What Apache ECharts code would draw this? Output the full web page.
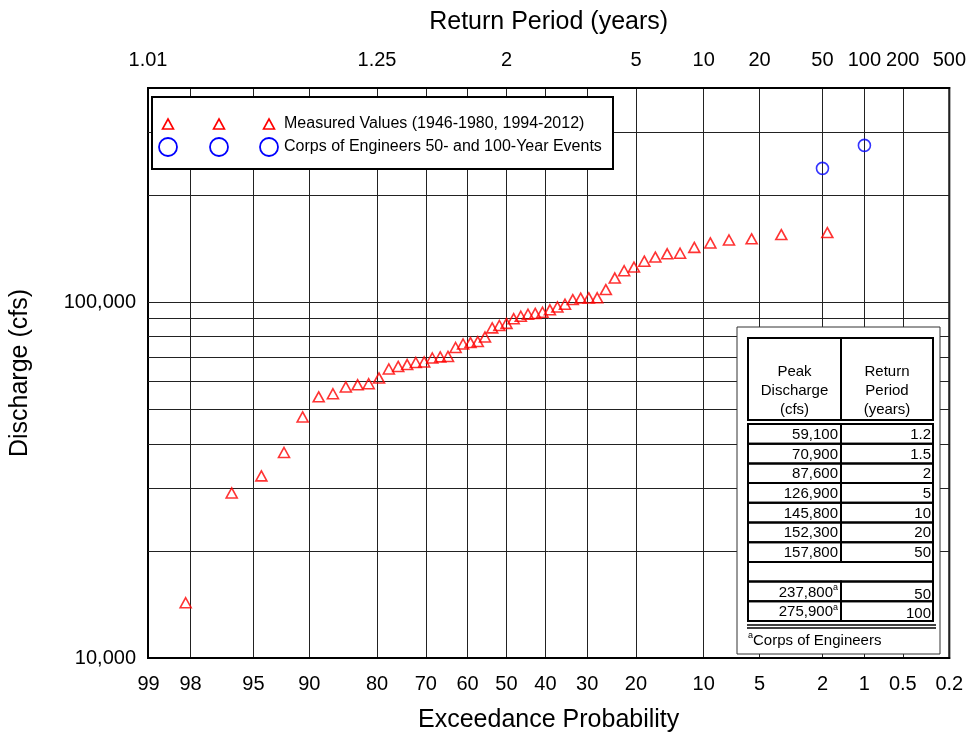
<!DOCTYPE html>
<html>
<head>
<meta charset="utf-8">
<script src="https://cdn.jsdelivr.net/npm/echarts@6/dist/echarts.min.js"></script>
<style>
  html, body { margin: 0; padding: 0; background: #fff; }
  #chart { width: 969px; height: 738px; }
</style>
</head>
<body>
<div id="chart"></div>
<script>
const FONT = '"Liberation Sans", Arial, sans-serif';

// Annual peak discharges (cfs), 1946-1980 and 1994-2012, ranked largest to smallest
const measuredDischarge = [
  156900, 154900, 150700, 149600, 146800, 142600, 137300, 136800, 133900, 130400,
  125500, 122600, 116900, 108500, 102900, 102800, 102700, 101700, 98700, 97000,
  95200, 93700, 93000, 92500, 91300, 89900, 87200, 86000, 84700, 79800,
  77500, 77000, 76300, 74600, 70400, 70200, 69700, 67900, 67700, 66800,
  66000, 64900, 61200, 59000, 58600, 57800, 55300, 54200, 47600, 37800,
  32500, 29100, 14300
];

// Corps of Engineers design events
const corpsReturnPeriod = [50, 100];
const corpsDischarge = [237800, 275900];

// Axis ticks and grid
const probabilityTicks = [99, 98, 95, 90, 80, 70, 60, 50, 40, 30, 20, 10, 5, 2, 1, 0.5, 0.2];
const returnPeriodTicks = [1.01, 1.25, 2, 5, 10, 20, 50, 100, 200, 500];
const dischargeGrid = [20000, 30000, 40000, 50000, 60000, 70000, 80000, 90000, 100000, 200000, 300000];

// Frequency analysis table
const tablePeakDischarge = [59100, 70900, 87600, 126900, 145800, 152300, 157800];
const tableReturnPeriod = [1.2, 1.5, 2, 5, 10, 20, 50];

// Inverse standard normal CDF (Acklam's rational approximation)
function normInv(p) {
  const a = [-3.969683028665376e+01, 2.209460984245205e+02, -2.759285104469687e+02, 1.383577518672690e+02, -3.066479806614716e+01, 2.506628277459239e+00];
  const b = [-5.447609879822406e+01, 1.615858368580409e+02, -1.556989798598866e+02, 6.680131188771972e+01, -1.328068155288572e+01];
  const c = [-7.784894002430293e-03, -3.223964580411365e-01, -2.400758277161838e+00, -2.549732539343734e+00, 4.374664141464968e+00, 2.938163982698783e+00];
  const d = [7.784695709041462e-03, 3.224671290700398e-01, 2.445134137142996e+00, 3.754408661907416e+00];
  const pl = 0.02425, ph = 1 - pl;
  let q, r;
  if (p < pl) {
    q = Math.sqrt(-2 * Math.log(p));
    return (((((c[0]*q+c[1])*q+c[2])*q+c[3])*q+c[4])*q+c[5]) / ((((d[0]*q+d[1])*q+d[2])*q+d[3])*q+1);
  }
  if (p <= ph) {
    q = p - 0.5; r = q * q;
    return (((((a[0]*r+a[1])*r+a[2])*r+a[3])*r+a[4])*r+a[5])*q / (((((b[0]*r+b[1])*r+b[2])*r+b[3])*r+b[4])*r+1);
  }
  q = Math.sqrt(-2 * Math.log(1 - p));
  return -(((((c[0]*q+c[1])*q+c[2])*q+c[3])*q+c[4])*q+c[5]) / ((((d[0]*q+d[1])*q+d[2])*q+d[3])*q+1);
}

// Position on the normal-probability axis for an exceedance probability in percent
const probPos = pct => normInv(1 - pct / 100);

const probTickPos = probabilityTicks.map(probPos);
const returnTickPos = returnPeriodTicks.map(t => probPos(100 / t));
const xMin = Math.min(probTickPos[0], returnTickPos[0]);
const xMax = Math.max(probTickPos[probTickPos.length - 1], returnTickPos[returnTickPos.length - 1]);

function lookup(v, positions, labels) {
  for (let i = 0; i < positions.length; i++) {
    if (Math.abs(positions[i] - v) < 1e-6) return String(labels[i]);
  }
  return '';
}

// Weibull plotting positions: rank / (n + 1)
const n = measuredDischarge.length;
const measuredPoints = measuredDischarge.map((q, i) => [probPos((i + 1) / (n + 1) * 100), q]);
const corpsPoints = corpsDischarge.map((q, i) => [probPos(100 / corpsReturnPeriod[i]), q]);

const fmt = v => v.toLocaleString('en-US');
const TOP = 100;

// ---- Legend box ----
function triangle(cx, cy, w, h) {
  return {
    type: 'polygon', z: TOP + 1,
    shape: { points: [[cx, cy - h / 2], [cx + w / 2, cy + h / 2], [cx - w / 2, cy + h / 2]] },
    style: { fill: 'transparent', stroke: '#ff0000', lineWidth: 1.6 }
  };
}
function ring(cx, cy, r) {
  return {
    type: 'circle', z: TOP + 1,
    shape: { cx: cx, cy: cy, r: r },
    style: { fill: 'transparent', stroke: '#0000ff', lineWidth: 1.8 }
  };
}
const legendRows = [
  { label: 'Measured Values (1946-1980, 1994-2012)', kind: 'tri', y: 124 },
  { label: 'Corps of Engineers 50- and 100-Year Events', kind: 'circ', y: 147 }
];
const legendChildren = [{
  type: 'rect', z: TOP,
  shape: { x: 152, y: 97, width: 461, height: 72 },
  style: { fill: '#fff', stroke: '#000', lineWidth: 2 }
}];
legendRows.forEach(row => {
  [168, 219, 269].forEach(x => {
    legendChildren.push(row.kind === 'tri' ? triangle(x, row.y, 11, 10) : ring(x, row.y, 9));
  });
  legendChildren.push({
    type: 'text', z: TOP + 1,
    style: { x: 284, y: row.y, text: row.label, fill: '#000', font: '16px ' + FONT, verticalAlign: 'middle' }
  });
});

// ---- Frequency table inset ----
const tbl = { x: 748, y: 338, w0: 93, w1: 92, headH: 82, rowY: 424, rowH: 19.7 };
const tableChildren = [{
  type: 'rect', z: TOP,
  shape: { x: 737, y: 327, width: 203, height: 327 },
  style: { fill: '#fff', stroke: '#333', lineWidth: 1 }
}];
function cellRect(x, y, w, h) {
  return { type: 'rect', z: TOP + 1, shape: { x: x, y: y, width: w, height: h }, style: { fill: 'transparent', stroke: '#000', lineWidth: 2 } };
}
function cellText(x, y, text, align, rich) {
  return {
    type: 'text', z: TOP + 2,
    style: {
      x: x, y: y, text: text, fill: '#000', font: '15px ' + FONT,
      align: align, verticalAlign: 'middle', lineHeight: 19, rich: rich
    }
  };
}
const supRich = {
  v: { fontSize: 15, fontFamily: FONT, fill: '#000' },
  s: { fontSize: 9, fontFamily: FONT, fill: '#000', verticalAlign: 'top', padding: [0, 0, 6, 0] }
};
tableChildren.push(cellRect(tbl.x, tbl.y, tbl.w0, tbl.headH));
tableChildren.push(cellRect(tbl.x + tbl.w0, tbl.y, tbl.w1, tbl.headH));
tableChildren.push(cellText(tbl.x + tbl.w0 / 2, tbl.y + 53, 'Peak\nDischarge\n(cfs)', 'center'));
tableChildren.push(cellText(tbl.x + tbl.w0 + tbl.w1 / 2, tbl.y + 53, 'Return\nPeriod\n(years)', 'center'));

const tableRows = tablePeakDischarge.map((q, i) => ({ q: fmt(q), t: String(tableReturnPeriod[i]), note: false }));
tableRows.push(null);
corpsDischarge.forEach((q, i) => tableRows.push({ q: fmt(q), t: String(corpsReturnPeriod[i]), note: true }));

tableRows.forEach((row, i) => {
  const y = tbl.rowY + i * tbl.rowH;
  if (!row) {
    tableChildren.push(cellRect(tbl.x, y, tbl.w0 + tbl.w1, tbl.rowH));
    return;
  }
  tableChildren.push(cellRect(tbl.x, y, tbl.w0, tbl.rowH));
  tableChildren.push(cellRect(tbl.x + tbl.w0, y, tbl.w1, tbl.rowH));
  const cy = y + tbl.rowH / 2 + 1;
  if (row.note) {
    tableChildren.push(cellText(tbl.x + tbl.w0 - 3, cy, '{v|' + row.q + '}{s|a}', 'right', supRich));
  } else {
    tableChildren.push(cellText(tbl.x + tbl.w0 - 3, cy, row.q, 'right'));
  }
  tableChildren.push(cellText(tbl.x + tbl.w0 + tbl.w1 - 2, cy + (row.note ? 2 : 0), row.t, 'right'));
});
const tableBottom = tbl.rowY + tableRows.length * tbl.rowH;
[tableBottom + 4, tableBottom + 7].forEach(y => {
  tableChildren.push({
    type: 'line', z: TOP + 1,
    shape: { x1: tbl.x - 1, y1: y, x2: tbl.x + tbl.w0 + tbl.w1 + 3, y2: y },
    style: { stroke: '#000', lineWidth: 1.5 }
  });
});
tableChildren.push(cellText(tbl.x, tableBottom + 20, '{s|a}{v|Corps of Engineers}', 'left', supRich));

const axisLabelStyle = { color: '#000', fontSize: 20, fontFamily: FONT };
const axisNameStyle = { color: '#000', fontSize: 25, fontFamily: FONT };

const chart = echarts.init(document.getElementById('chart'), null, { renderer: 'canvas' });
chart.setOption({
  animation: false,
  backgroundColor: '#fff',
  grid: {
    left: 148, top: 88, width: 804, height: 572,
    show: true, borderColor: '#000', borderWidth: 2, backgroundColor: 'transparent'
  },
  xAxis: [
    {
      type: 'value', position: 'bottom', min: xMin, max: xMax,
      name: 'Exceedance Probability', nameLocation: 'middle', nameGap: 50, nameTextStyle: axisNameStyle,
      axisLine: { show: true, onZero: false, lineStyle: { color: '#000', width: 2 } },
      axisTick: { show: false, customValues: probTickPos },
      axisLabel: Object.assign({
        customValues: probTickPos, margin: 16,
        formatter: v => lookup(v, probTickPos, probabilityTicks)
      }, axisLabelStyle),
      splitLine: { show: true, lineStyle: { color: '#222', width: 1 } }
    },
    {
      type: 'value', position: 'top', min: xMin, max: xMax,
      name: 'Return Period (years)', nameLocation: 'middle', nameGap: 53, nameTextStyle: axisNameStyle,
      axisLine: { show: true, onZero: false, lineStyle: { color: '#000', width: 2 } },
      axisTick: { show: false, customValues: returnTickPos },
      axisLabel: Object.assign({
        customValues: returnTickPos, margin: 18,
        formatter: v => lookup(v, returnTickPos, returnPeriodTicks)
      }, axisLabelStyle),
      splitLine: { show: false }
    }
  ],
  yAxis: {
    type: 'log', logBase: 10, min: 10000, max: 400000,
    name: 'Discharge (cfs)', nameLocation: 'middle', nameGap: 115, nameTextStyle: axisNameStyle,
    axisLine: { show: true, onZero: false, lineStyle: { color: '#000', width: 2 } },
    axisTick: { show: false },
    axisLabel: Object.assign({
      margin: 12, showMaxLabel: false,
      formatter: v => {
        const e = Math.log10(v);
        return Math.abs(e - Math.round(e)) < 1e-6 ? fmt(Math.round(v)) : '';
      }
    }, axisLabelStyle),
    splitLine: { show: false }
  },
  series: [
    {
      // horizontal grid lines of the log discharge axis
      type: 'line', data: [], silent: true,
      markLine: {
        silent: true, symbol: ['none', 'none'], z: 1, animation: false,
        label: { show: false },
        lineStyle: { color: '#222', width: 1, type: 'solid' },
        emphasis: { disabled: true },
        data: dischargeGrid.map(v => ({ yAxis: v }))
      }
    },
    {
      name: 'Measured Values (1946-1980, 1994-2012)',
      type: 'scatter', xAxisIndex: 0, z: 3,
      symbol: 'triangle', symbolSize: [11, 10],
      itemStyle: { color: 'rgba(0,0,0,0)', borderColor: '#ff0000', borderWidth: 1.6 },
      data: measuredPoints
    },
    {
      name: 'Corps of Engineers 50- and 100-Year Events',
      type: 'scatter', xAxisIndex: 0, z: 3,
      symbol: 'circle', symbolSize: 12,
      itemStyle: { color: 'rgba(0,0,0,0)', borderColor: '#0000ff', borderWidth: 1.6 },
      data: corpsPoints
    }
  ],
  graphic: [
    { type: 'group', z: TOP, children: legendChildren },
    { type: 'group', z: TOP, children: tableChildren }
  ]
});
</script>
</body>
</html>
